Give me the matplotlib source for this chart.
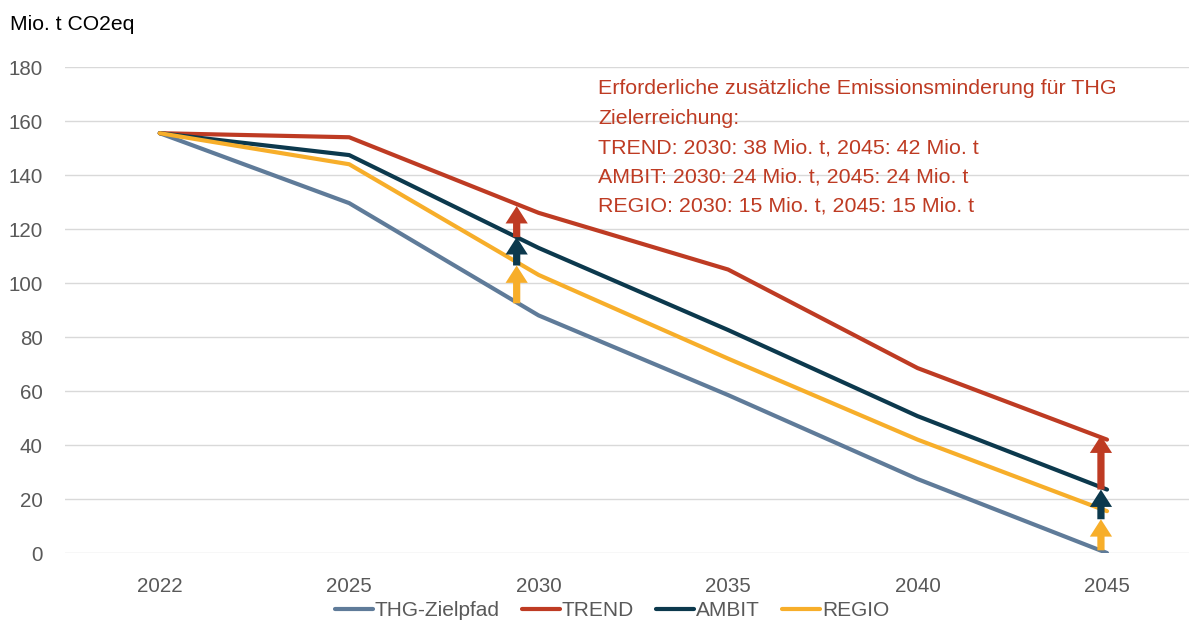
import matplotlib
matplotlib.use("Agg")
import matplotlib.pyplot as plt
import numpy as np

plt.rcParams['font.family'] = ['Liberation Sans', 'DejaVu Sans']

years = ["2022", "2025", "2030", "2035", "2040", "2045"]
thg = [155.5, 129.6, 88.0, 58.5, 27.4, 0.0]
trend = [155.5, 154.0, 126.0, 105.0, 68.5, 42.0]
ambit = [155.5, 147.4, 113.0, 82.6, 50.7, 23.5]
regio = [155.5, 144.0, 103.0, 72.0, 42.0, 15.5]

# arrow levels (from THG path upward): [start, REGIO tip, AMBIT tip, TREND tip]
arrow_2030 = [92.5, 106.5, 117.0, 128.5]
arrow_2045 = [1.0, 12.5, 23.5, 43.5]

c_thg = "#5F7B99"
c_trend = "#BE3B23"
c_ambit = "#0C394D"
c_regio = "#F7AE2A"

fig = plt.figure(figsize=(11.93, 6.21), dpi=100)
ax = fig.add_axes([0.0545, 0.1095, 0.9425, 0.7825])

x = np.arange(len(years))
for vals, col, lab in [(thg, c_thg, "THG-Zielpfad"), (trend, c_trend, "TREND"),
                       (ambit, c_ambit, "AMBIT"), (regio, c_regio, "REGIO")]:
    ax.plot(x, vals, color=col, lw=3.0, label=lab, solid_capstyle='round',
            solid_joinstyle='round', zorder=3)

def draw_arrows(xpos, levels):
    cols = [c_regio, c_ambit, c_trend]
    for i, col in enumerate(cols):
        ax.annotate("", xy=(xpos, levels[i + 1]), xytext=(xpos, levels[i]),
                    arrowprops=dict(arrowstyle="simple,head_length=1.25,head_width=1.6,tail_width=0.52",
                                    fc=col, ec="none", lw=0, mutation_scale=10,
                                    shrinkA=0, shrinkB=0),
                    zorder=4)

draw_arrows(2 - 0.116, arrow_2030)
draw_arrows(5 - 0.032, arrow_2045)

ax.set_ylim(0, 180)
ax.set_xlim(-0.5, 5.435)
ax.set_yticks(np.arange(0, 181, 20))
ax.set_xticks(x)
ax.set_xticklabels(years)
ax.tick_params(axis='both', length=0, labelsize=14.8, colors="#595959")
ax.tick_params(axis='y', pad=16)
ax.tick_params(axis='x', pad=17)
ax.yaxis.grid(True, color="#D9D9D9", lw=1.0)
ax.set_axisbelow(True)
for s in ax.spines.values():
    s.set_visible(False)

fig.text(0.008, 1 - 25 / 621, "Mio. t CO2eq", fontsize=15.2, color="black", va="center", ha="left")

note = ("Erforderliche zusätzliche Emissionsminderung für THG\n"
        "Zielerreichung:\n"
        "TREND: 2030: 38 Mio. t, 2045: 42 Mio. t\n"
        "AMBIT: 2030: 24 Mio. t, 2045: 24 Mio. t\n"
        "REGIO: 2030: 15 Mio. t, 2045: 15 Mio. t")
fig.text(598 / 1193, 1 - 79 / 621, note, fontsize=15.4, color=c_trend, va="top", ha="left",
         linespacing=1.7)

leg = fig.legend(loc="center", bbox_to_anchor=(612 / 1193, 1 - 611 / 621), ncol=4,
                 frameon=False, fontsize=15, handlelength=1.83, handletextpad=0.1,
                 columnspacing=1.05, labelcolor="#595959")

fig.savefig("out.png", dpi=100)
